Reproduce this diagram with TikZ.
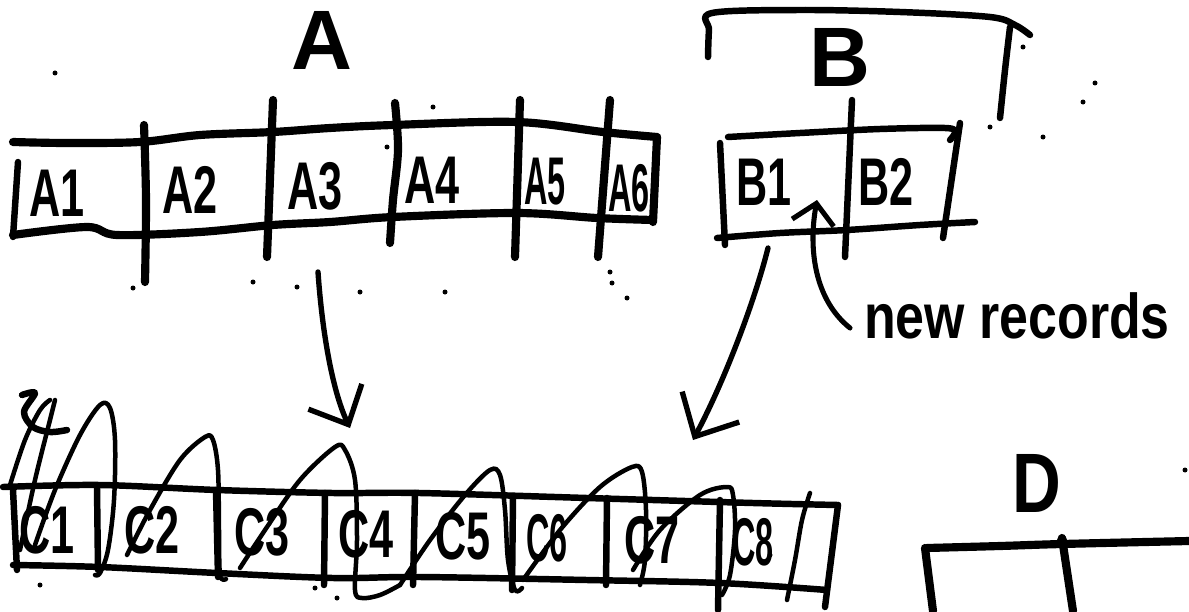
\documentclass[tikz,border=0pt]{standalone}
\usepackage{fontspec}
\setmainfont{Liberation Sans}
\usepackage{graphicx}
\usetikzlibrary{arrows.meta}
\newcommand\hsx[1]{\scalebox{0.64}[1]{#1}}
\newcommand\hsxx[1]{\scalebox{0.48}[1]{#1}}
\begin{document}
\begin{tikzpicture}[x=0.025cm,y=-0.025cm,
  heavy/.style={line width=5.8pt,line cap=round,line join=round},
  medium/.style={line width=4.6pt,line cap=round,line join=round},
  light/.style={line width=3.2pt,line cap=round,line join=round},
  cell label/.style={font=\bfseries\fontsize{48}{52}\selectfont,inner sep=0pt},
  title/.style={font=\bfseries\fontsize{60}{64}\selectfont,inner sep=0pt},
  note/.style={font=\bfseries\fontsize{45}{50}\selectfont,inner sep=0pt},
  speck/.style={fill=black},
  wavy/.style={smooth,tension=0.55}
]
\useasboundingbox (0,0) rectangle (1189,611);

% ---------------- titles ----------------
\node[title] (titleA) at (322,40) {A};
\node[title] (titleB) at (840,57) {B};
\node[title] (titleD) at (1037,483) {\scalebox{0.8}[1]{D}};

% ---------------- array A ----------------
\draw[heavy] plot[wavy] coordinates {(13,142) (67,143) (140,142) (200,135) (273,132) (330,128) (393,125) (517,122) (603,132) (657,137)};
\draw[heavy] plot[wavy] coordinates {(13,235) (87,227) (117,235) (200,232) (273,225) (330,222) (393,217) (517,213) (597,218) (653,220)};
\draw[medium] (18,162) -- (13,237);
\draw[heavy] (657,137) -- (653,222);
\draw[heavy] plot[wavy] coordinates {(144,125) (146,200) (145,282)};
\draw[heavy] (273,100) -- (267,257);
\draw[heavy] plot[wavy] coordinates {(395,103) (398,150) (393,200) (390,243)};
\draw[heavy] (520,100) -- (515,257);
\draw[heavy] (610,100) -- (598,257);

\node[cell label] (a1) at (57,193) {\hsx{A1}};
\node[cell label] (a2) at (190,190) {\hsx{A2}};
\node[cell label] (a3) at (315,186) {\hsx{A3}};
\node[cell label] (a4) at (432,180) {\hsx{A4}};
\node[cell label] (a5) at (545,182) {\hsxx{A5}};
\node[cell label] (a6) at (629,188) {\hsxx{A6}};

% ---------------- array B ----------------
\draw[medium] plot[wavy] coordinates {(708,57) (709,30) (712,13) (800,10) (900,12) (990,17) (1015,25) (1030,35)};
\draw[medium] plot[wavy] coordinates {(1010,27) (1005,70) (1000,118)};
\draw[medium] plot[wavy] coordinates {(728,137) (800,133) (880,129) (945,128) (955,132) (950,140)};
\draw[medium] (960,123) -- (943,238);
\draw[medium] (720,143) -- (725,245);
\draw[medium] plot[wavy] coordinates {(717,238) (780,233) (847,230) (920,225) (975,222)};
\draw[medium] (852,100) -- (845,257);

\node[cell label] (b1) at (764,182) {\hsx{B1}};
\node[cell label] (b2) at (886,182) {\hsx{B2}};

% ---------------- array C ----------------
\draw[medium] plot[wavy] coordinates {(3,487) (100,485) (217,490) (333,493) (420,493) (587,498) (753,503) (838,505)};
\draw[medium] plot[wavy] coordinates {(13,565) (100,567) (217,573) (333,578) (420,577) (587,580) (720,583) (827,590)};
\draw[medium] (13,490) -- (17,570);
\draw[medium] (97,487) -- (98,570);
\draw[medium] (216,490) -- (218,577);
\draw[medium] (325,493) -- (324,585);
\draw[medium] (415,493) -- (413,585);
\draw[medium] (513,496) -- (512,590);
\draw[medium] (607,498) -- (606,585);
\draw[medium] (720,500) -- (718,610);
\draw[medium] (838,505) -- (825,607);

\node[cell label] (c1) at (47,530) {\hsx{C1}};
\node[cell label] (c2) at (152,530) {\hsx{C2}};
\node[cell label] (c3) at (262,532) {\hsx{C3}};
\node[cell label] (c4) at (366,534) {\hsx{C4}};
\node[cell label] (c5) at (463,536) {\hsx{C5}};
\node[cell label] (c6) at (547,538) {\hsxx{C6}};
\node[cell label] (c7) at (652,540) {\hsx{C7}};
\node[cell label] (c8) at (753,542) {\hsxx{C8}};

% overlaid loops on C
\draw[light] plot[wavy] coordinates {(10,485) (25,440) (40,410) (50,400)};
\draw[light] plot[wavy] coordinates {(20,550) (35,480) (50,420) (55,400)};
\draw[medium] plot[wavy] coordinates {(22,395) (35,393) (24,412) (33,427) (50,432) (67,430)};
\draw[light] plot[wavy] coordinates {(35,545) (55,490) (80,435) (100,405) (110,408) (115,440) (114,500) (108,550) (100,573) (95,575)};
\draw[light] plot[wavy] coordinates {(127,555) (150,510) (180,460) (205,437) (213,440) (218,470) (219,530) (220,575) (226,579)};
\draw[light] plot[wavy] coordinates {(240,568) (265,530) (300,480) (335,447) (345,450) (355,480) (357,540) (355,590) (362,598) (380,595) (400,585)};
\draw[light] plot[wavy] coordinates {(400,585) (430,540) (465,495) (490,470) (500,475) (505,510) (508,560) (515,590) (522,588)};
\draw[light] plot[wavy] coordinates {(523,580) (560,530) (600,487) (632,467) (642,472) (646,510) (645,560) (640,585)};
\draw[light] plot[wavy] coordinates {(633,570) (660,530) (700,495) (727,487) (733,495) (735,530) (730,575) (722,595)};
\draw[light] plot[wavy] coordinates {(787,600) (795,560) (802,520) (810,493)};

% ---------------- D ----------------
\draw[heavy] plot[wavy] coordinates {(927,548) (1000,546) (1062,544) (1189,541)};
\draw[heavy] (925,548) -- (933,611);
\draw[heavy] (1062,538) -- (1073,611);
\fill (1062,540) circle (5);

% ---------------- arrows ----------------
\coordinate (aFrom) at (318,272);
\coordinate (aTo) at (350,428);
\draw[line width=3.8pt,line cap=round,-{Straight Barb[length=22pt,width=42pt]}] (aFrom) .. controls (322,330) and (332,390) .. (aTo);

\coordinate (bFrom) at (768,248);
\coordinate (bTo) at (693,440);
\draw[line width=3.8pt,line cap=round,-{Straight Barb[length=24pt,width=46pt]}] (bFrom) .. controls (755,300) and (725,380) .. (bTo);

\node[note,anchor=base] (newrec) at (1017,338) {\scalebox{0.82}[1]{new records}};
\coordinate (nFrom) at (850,328);
\coordinate (nTo) at (817,200);
\draw[line width=3.6pt,line cap=round,-{Straight Barb[length=14pt,width=30pt]}] (nFrom) .. controls (815,300) and (808,250) .. (nTo);

% ---------------- specks ----------------
\foreach \p in {(55,73),(253,282),(297,287),(133,288),(360,292),(445,292),(610,272),(612,283),(627,298),(387,147),(433,107),(1023,47),(1095,83),(1043,137),(990,127),(1083,102),(40,585),(315,588),(337,598),(770,555),(1185,470)}
  \fill[speck] \p circle (2.5);
\end{tikzpicture}
\end{document}
